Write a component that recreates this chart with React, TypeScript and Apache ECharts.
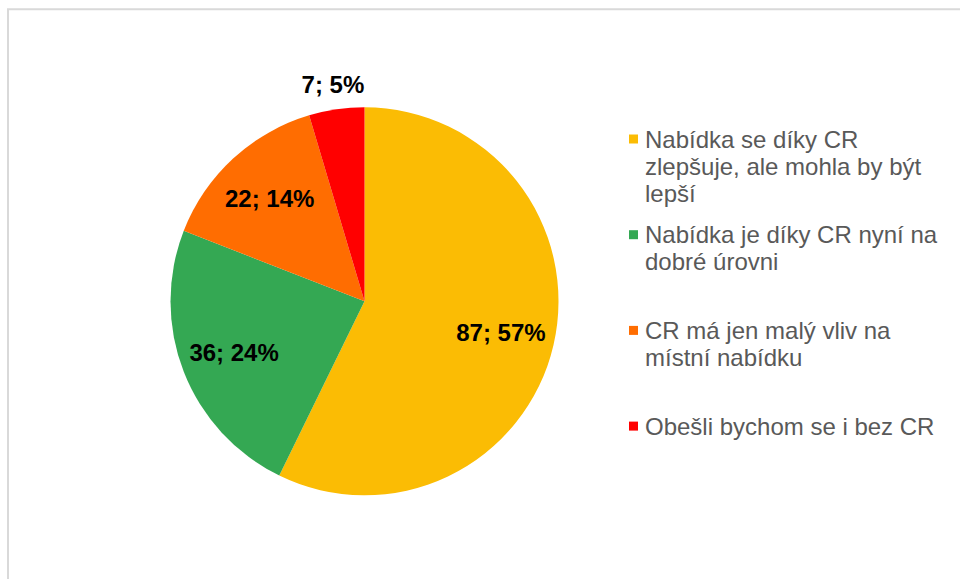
import React, { useEffect, useRef } from "react";
import * as echarts from "echarts";

const categories = [
  "Nabídka se díky CR zlepšuje, ale mohla by být lepší",
  "Nabídka je díky CR nyní na dobré úrovni",
  "CR má jen malý vliv na místní nabídku",
  "Obešli bychom se i bez CR",
];
const counts = [87, 36, 22, 7];
const colors = ["#FBBC04", "#34A853", "#FF6D01", "#FF0000"];
// which slices carry their label outside the pie
const outsideLabel = [false, false, false, true];

const FONT = '"Liberation Sans", Arial, Helvetica, sans-serif';
const CENTER = [364.5, 301.3];
const R = 194;

function wrapText(text: string, maxWidth: number, font: string): string[] {
  const ctx = document.createElement("canvas").getContext("2d");
  if (!ctx) return [text];
  ctx.font = font;
  const words = text.split(" ");
  const lines: string[] = [];
  let cur = "";
  for (const w of words) {
    const test = cur ? cur + " " + w : w;
    if (cur && ctx.measureText(test).width > maxWidth) {
      lines.push(cur);
      cur = w;
    } else cur = test;
  }
  if (cur) lines.push(cur);
  return lines;
}

export default function App() {
  const ref = useRef<HTMLDivElement>(null);
  useEffect(() => {
    if (!ref.current) return;
    const chart = echarts.init(ref.current, undefined, { renderer: "svg" });

    const labelFormatter = (p: any) => `${p.value}; ${Math.round(p.percent)}%`;
    const labelStyle = {
      fontFamily: FONT,
      fontSize: 24,
      fontWeight: "bold" as const,
      color: "#000000",
    };

    const mainData = categories.map((name, i) => ({
      name,
      value: counts[i],
      itemStyle: { color: colors[i] },
    }));
    const overlayData = (outside: boolean) =>
      categories.map((name, i) => ({
        name,
        value: counts[i],
        itemStyle: { color: "rgba(0,0,0,0)" },
        label: { show: outsideLabel[i] === outside },
      }));

    const rich: any = {
      ind: { width: 9, height: 9 },
      t: {
        fontFamily: FONT,
        fontSize: 24,
        color: "#595959",
        lineHeight: 27.3,
        padding: [0, 0, 0, 7],
      },
    };
    colors.forEach((c, i) => {
      rich["sq" + i] = { width: 9, height: 9, backgroundColor: c };
    });

    const legends = categories.map((name, i) => ({
      data: [name],
      orient: "vertical",
      left: 624,
      top: 127 + i * 95.7,
      padding: 0,
      icon: "none",
      itemWidth: 0,
      itemHeight: 0,
      selectedMode: false,
      formatter: (n: string) =>
        wrapText(n, 300, `24px ${FONT}`)
          .map((l, j) => (j === 0 ? `{sq${i}|}` : "{ind|}") + `{t|${l}}`)
          .join("\n"),
      textStyle: { fontFamily: FONT, fontSize: 24, color: "#595959", rich },
    }));

    chart.setOption({
      animation: false,
      backgroundColor: "#ffffff",
      legend: legends,
      graphic: [
        {
          type: "rect",
          shape: { x: 8, y: 9.3, width: 1200, height: 1200 },
          style: { fill: "none", stroke: "#D9D9D9", lineWidth: 2 },
          silent: true,
        },
      ],
      series: [
        {
          type: "pie",
          center: CENTER,
          radius: [0, R],
          startAngle: 90,
          clockwise: true,
          silent: true,
          data: mainData,
          label: { show: false },
          labelLine: { show: false },
        },
        {
          type: "pie",
          center: CENTER,
          radius: [80, R],
          startAngle: 90,
          clockwise: true,
          silent: true,
          data: overlayData(false),
          label: { position: "inside", formatter: labelFormatter, ...labelStyle },
          labelLine: { show: false },
        },
        {
          type: "pie",
          center: CENTER,
          radius: [R, 238],
          startAngle: 90,
          clockwise: true,
          silent: true,
          data: overlayData(true),
          label: { position: "inside", formatter: labelFormatter, ...labelStyle },
          labelLine: { show: false },
        },
      ],
    });
    return () => chart.dispose();
  }, []);

  return (
    <div
      ref={ref}
      style={{ position: "fixed", left: 0, top: 0, width: 960, height: 579 }}
    />
  );
}
